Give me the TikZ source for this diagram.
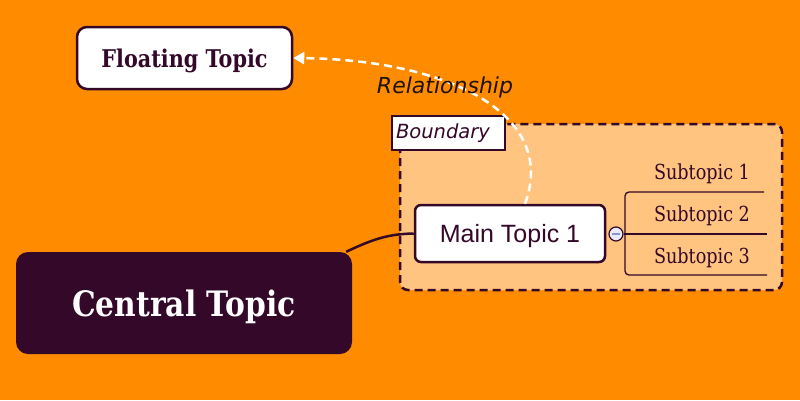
\documentclass[tikz,border=0pt]{standalone}
\usepackage{fontspec}
\newfontfamily\slabfont[FakeStretch=0.85]{DejaVu Serif}
\newfontfamily\topicfont{Liberation Sans}
\newfontfamily\notefont{DejaVu Sans}
\definecolor{bgorange}{RGB}{255,140,0}
\definecolor{plum}{RGB}{51,8,40}
\definecolor{boundfill}{RGB}{255,196,128}
\definecolor{collapsefill}{RGB}{232,234,250}
\definecolor{minusblue}{RGB}{140,150,205}
\definecolor{notetext}{RGB}{30,18,12}
\usetikzlibrary{arrows.meta}
\begin{document}
\begin{tikzpicture}[x=1pt,y=-1pt,
    central/.style={fill=plum,rounded corners=12pt,text=white,text depth=0pt,
      minimum width=336pt,minimum height=102pt,
      font=\slabfont\bfseries\fontsize{35}{40}\selectfont},
    floating/.style={draw=plum,line width=2.5pt,fill=white,rounded corners=10pt,text=plum,
      text depth=0pt,minimum width=215pt,minimum height=62pt,
      font=\slabfont\bfseries\fontsize{24.4}{28}\selectfont},
    maintopic/.style={draw=plum,line width=2.5pt,fill=white,rounded corners=6pt,text=plum,
      text depth=0pt,minimum width=190pt,minimum height=57pt,
      font=\topicfont\fontsize{25}{29}\selectfont},
    subtopic/.style={text=plum,inner sep=0pt,text depth=0pt,
      font=\slabfont\fontsize{20.7}{24}\selectfont},
    branch/.style={draw=plum,line width=1.3pt},
    relation/.style={draw=white,line width=2.5pt,dash pattern=on 8pt off 5pt},
    note/.style={text=notetext,inner sep=0pt,
      font=\notefont\itshape\fontsize{22}{26}\selectfont}]
  \useasboundingbox (0,0) rectangle (800,400);
  \fill[bgorange] (0,0) rectangle (800,400);
  % boundary
  \draw[plum,fill=boundfill,line width=2.5pt,dash pattern=on 8pt off 5pt,rounded corners=8pt]
    (400,124) rectangle (782,290);
  \node[draw=plum,fill=white,line width=2.5pt,text=plum,inner xsep=4pt,inner ysep=0pt,
    text width=105pt,align=left,minimum height=34pt,
    font=\notefont\itshape\fontsize{19.5}{23}\selectfont] (boundary) at (448.5,133) {Boundary};
  % topics
  \node[central] (central) at (184,303) {Central Topic};
  \node[floating] (floating) at (184.5,58) {Floating Topic};
  \node[maintopic] (main) at (510,233.5) {Main Topic 1};
  \draw[branch,line width=2.5pt] ([xshift=-6pt]central.north east) .. controls (375,238) and (390,234) .. (main.west);
  % subtopics
  \node[circle,draw=plum,line width=1.2pt,fill=collapsefill,minimum size=14pt,inner sep=0pt] (collapse) at (616,234) {};
  \draw[minusblue,line width=1.5pt] ([xshift=-4pt]collapse.center) -- ([xshift=4pt]collapse.center);
  \node[subtopic] (sub1) at (702,172) {Subtopic 1};
  \node[subtopic] (sub2) at (702,214) {Subtopic 2};
  \node[subtopic] (sub3) at (702,256) {Subtopic 3};
  \coordinate (top) at (764,192);
  \coordinate (bottom) at (767,275);
  \draw[branch,rounded corners=4pt] (top) -- (625,192) -- (625,275) -- (bottom);
  \draw[branch] (collapse.east) -- (767,234);
  % relationship
  \draw[relation,-{Triangle[length=11pt,width=12pt,fill=white]}]
    ([xshift=15pt]main.north) .. controls (558,115) and (450,60) .. (floating.east);
  \node[note] (relation) at (445,87) {Relationship};
\end{tikzpicture}
\end{document}
